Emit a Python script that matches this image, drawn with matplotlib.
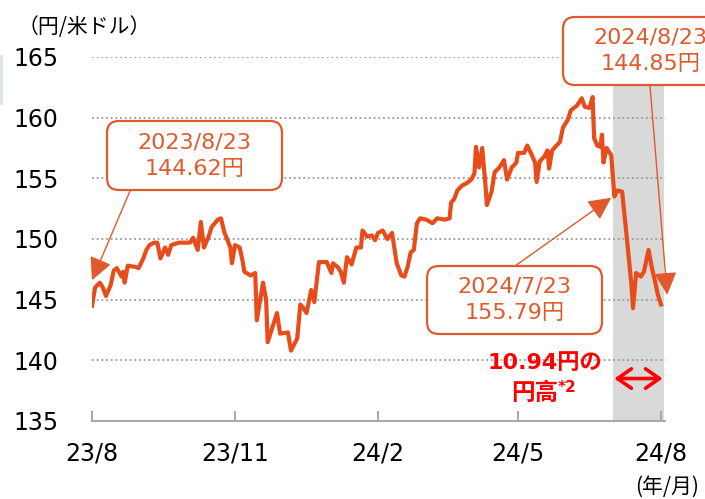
import matplotlib
matplotlib.use("Agg")
import matplotlib.pyplot as plt
import matplotlib.dates as mdates
from matplotlib.patches import FancyBboxPatch, Rectangle
import pandas as pd

plt.rcParams['font.family'] = ['DejaVu Sans', 'Noto Sans CJK JP']

# ---------------- data ----------------
dates = [
    "2023-08-23", "2023-08-25", "2023-08-28", "2023-08-30", "2023-09-01", "2023-09-04", "2023-09-06",
    "2023-09-08", "2023-09-11", "2023-09-12", "2023-09-13", "2023-09-15", "2023-09-20", "2023-09-22",
    "2023-09-25", "2023-09-27", "2023-09-29", "2023-10-02", "2023-10-04", "2023-10-06", "2023-10-09",
    "2023-10-11", "2023-10-13", "2023-10-18", "2023-10-23", "2023-10-25", "2023-10-27", "2023-10-30",
    "2023-11-01", "2023-11-03", "2023-11-06", "2023-11-08", "2023-11-12", "2023-11-14", "2023-11-16",
    "2023-11-20", "2023-11-21", "2023-11-23", "2023-11-26", "2023-11-28", "2023-11-29", "2023-12-03",
    "2023-12-06", "2023-12-07", "2023-12-11", "2023-12-13", "2023-12-14", "2023-12-17", "2023-12-20",
    "2023-12-22", "2023-12-27", "2023-12-29", "2024-01-02", "2024-01-04", "2024-01-06", "2024-01-08",
    "2024-01-11", "2024-01-13", "2024-01-16", "2024-01-21", "2024-01-24", "2024-01-25", "2024-01-28",
    "2024-01-30", "2024-02-01", "2024-02-03", "2024-02-06", "2024-02-09", "2024-02-12", "2024-02-13",
    "2024-02-16", "2024-02-19", "2024-02-21", "2024-02-23", "2024-02-26", "2024-02-29", "2024-03-03",
    "2024-03-06", "2024-03-09", "2024-03-11", "2024-03-13", "2024-03-15", "2024-03-17", "2024-03-19",
    "2024-03-21", "2024-03-25", "2024-03-29", "2024-04-01", "2024-04-06", "2024-04-09", "2024-04-10",
    "2024-04-12", "2024-04-14", "2024-04-17", "2024-04-20", "2024-04-23", "2024-04-25", "2024-04-26",
    "2024-04-28", "2024-04-30", "2024-05-02", "2024-05-03", "2024-05-06", "2024-05-08", "2024-05-11",
    "2024-05-14", "2024-05-16", "2024-05-19", "2024-05-22", "2024-05-23", "2024-05-27", "2024-05-29",
    "2024-06-01", "2024-06-03", "2024-06-04", "2024-06-06", "2024-06-09", "2024-06-11", "2024-06-12",
    "2024-06-14", "2024-06-16", "2024-06-19", "2024-06-21", "2024-06-24", "2024-06-26", "2024-06-30",
    "2024-07-03", "2024-07-05", "2024-07-08", "2024-07-10", "2024-07-11", "2024-07-13", "2024-07-15",
    "2024-07-16", "2024-07-17", "2024-07-19", "2024-07-22", "2024-07-24", "2024-07-26", "2024-07-29",
    "2024-08-01", "2024-08-04", "2024-08-05", "2024-08-07", "2024-08-10", "2024-08-12", "2024-08-15",
    "2024-08-17", "2024-08-19", "2024-08-21", "2024-08-23",
]
usdjpy = [
    144.5, 146.0, 146.4, 146.0, 145.3, 146.2, 147.4,
    147.6, 146.9, 147.3, 146.4, 147.8, 147.7, 147.6,
    148.4, 149.1, 149.5, 149.7, 149.7, 148.4, 149.3,
    148.7, 149.5, 149.7, 149.7, 149.7, 150.1, 149.1,
    151.4, 149.3, 150.2, 151.0, 151.6, 151.7, 150.6,
    149.3, 148.0, 149.5, 149.3, 148.1, 147.3, 147.0,
    147.2, 143.3, 146.4, 145.0, 141.5, 142.7, 143.9,
    142.2, 142.3, 140.8, 141.8, 144.6, 144.3, 143.9,
    145.8, 144.8, 148.1, 148.1, 147.2, 148.0, 147.7,
    147.3, 146.4, 148.5, 147.9, 149.3, 149.3, 150.7,
    150.2, 150.3, 149.9, 150.5, 150.7, 150.0, 150.5,
    148.0, 147.0, 146.9, 147.7, 148.9, 149.1, 151.3,
    151.7, 151.6, 151.3, 151.7, 151.6, 151.7, 153.0,
    153.3, 154.0, 154.4, 154.6, 154.9, 155.4, 157.6,
    155.9, 157.5, 154.6, 152.8, 153.9, 155.5, 155.9,
    156.5, 154.9, 155.9, 156.3, 157.1, 157.1, 157.7,
    156.9, 156.3, 154.7, 156.4, 156.8, 157.3, 155.8,
    157.3, 157.6, 158.0, 159.2, 159.8, 160.6, 161.0,
    161.6, 160.9, 160.8, 161.7, 158.3, 157.7, 157.6,
    158.6, 156.3, 157.5, 156.9, 153.5, 154.0, 153.9,
    150.1, 146.2, 144.3, 147.2, 146.9, 147.3, 149.1,
    147.7, 146.6, 145.4, 144.6,
]

tick_dates = ["2023-08-23", "2023-11-23", "2024-02-23", "2024-05-23", "2024-08-23"]
tick_labels = ["23/8", "23/11", "24/2", "24/5", "24/8"]
y_ticks = [135, 140, 145, 150, 155, 160, 165]

shade_start, shade_end = "2024-07-23", "2024-08-25"

ann_texts = ["2023/8/23\n144.62円", "2024/7/23\n155.79円", "2024/8/23\n144.85円"]
ann_targets = [("2023-08-23", 146.6), ("2024-07-22", 153.4), ("2024-08-27", 145.4)]
diff_text1 = "10.94円の"
diff_text2 = "円高"
diff_note = "*2"
diff_arrow = ("2024-07-24", "2024-08-24", 138.5)

LINE_C = "#E84C1A"
ANN_C = "#E05A2C"
RED = "#FF0000"

W, H = 705, 499
fig = plt.figure(figsize=(W / 100, H / 100), dpi=100)


def fx(px):
    return px / W


def fy(py):
    return 1 - py / H


ax = fig.add_axes([fx(92), fy(421), fx(665) - fx(92), fy(57) - fy(421)])

d = pd.to_datetime(dates)
ax.axvspan(pd.Timestamp(shade_start), pd.Timestamp(shade_end), color="#D9D9D9", zorder=0, lw=0)
ax.plot(d, usdjpy, color=LINE_C, lw=3.0, zorder=3, solid_joinstyle="round")

ax.set_ylim(135, 165)
x0 = mdates.date2num(pd.Timestamp(dates[0]))
x1 = mdates.date2num(pd.Timestamp(tick_dates[-1]))
ax.set_xlim(x0, x1 + (x1 - x0) * 4 / 569)

for y in y_ticks[1:]:
    ax.axhline(y, color="#9A9A9A", lw=1.3, ls=(0, (1, 1.6)), zorder=1)

ax.set_yticks(y_ticks)
ax.set_yticklabels([str(v) for v in y_ticks], fontsize=17)
ax.tick_params(axis="y", length=0, pad=24)
ax.set_xticks(pd.to_datetime(tick_dates))
ax.set_xticklabels(tick_labels, fontsize=17)
ax.tick_params(axis="x", direction="in", length=7, width=1.4, color="#A6A6A6", pad=15)

for s in ["top", "right", "left"]:
    ax.spines[s].set_visible(False)
ax.spines["bottom"].set_color("#A6A6A6")
ax.spines["bottom"].set_linewidth(1.4)
ax.patch.set_alpha(0)

# axis unit labels
fig.text(fx(84), fy(27), "（円/米ドル）", fontsize=15, ha="center", va="center",
         family=["Noto Sans CJK JP", "DejaVu Sans"])
fig.text(fx(667), fy(487), "(年/月)", fontsize=15, ha="center", va="center",
         family=["Noto Sans CJK JP", "DejaVu Sans"])

# tiny light blue mark at left edge
fig.patches.append(Rectangle((0, fy(105)), fx(3), fy(55) - fy(105), transform=fig.transFigure,
                             color="#DCE6F2", lw=0))

# annotation boxes: (left, top, right, bottom) in px
boxes = [(107, 121, 282, 190), (427, 266, 602, 334), (563, 17, 738, 85)]
tails = [(130, 191), (515, 266), (650, 86)]
for (l, t, r, b), txt, tail, tgt in zip(boxes, ann_texts, tails, ann_targets):
    p = FancyBboxPatch((l / 100, (H - b) / 100), (r - l) / 100, (b - t) / 100,
                       boxstyle="round,pad=0,rounding_size=0.12",
                       transform=fig.dpi_scale_trans, fc="white", ec=ANN_C, lw=1.6, zorder=5)
    fig.patches.append(p)
    fig.text(fx((l + r) / 2), fy((t + b) / 2), txt, ha="center", va="center", fontsize=16,
             color=ANN_C, linespacing=1.38, zorder=6)
    ax.annotate("", xy=(pd.Timestamp(tgt[0]), tgt[1]), xycoords="data",
                xytext=(fx(tail[0]), fy(tail[1])), textcoords="figure fraction",
                arrowprops=dict(arrowstyle="-|>,head_length=0.7,head_width=0.35", color=ANN_C,
                                lw=1.0, shrinkA=0, shrinkB=0, mutation_scale=20),
                annotation_clip=False, zorder=4)

# difference label
fig.text(fx(545), fy(363), diff_text1, ha="center", va="center", fontsize=16,
         fontweight="bold", color=RED)
fig.text(fx(535), fy(393), diff_text2, ha="center", va="center", fontsize=17,
         fontweight="bold", color=RED)
fig.text(fx(567), fy(388), diff_note, ha="center", va="center", fontsize=11,
         fontweight="bold", color=RED)
ax.annotate("", xy=(pd.Timestamp(diff_arrow[1]), diff_arrow[2]),
            xytext=(pd.Timestamp(diff_arrow[0]), diff_arrow[2]),
            arrowprops=dict(arrowstyle="<->,head_length=0.5,head_width=0.35", color=RED, lw=2.6,
                            shrinkA=0, shrinkB=0, mutation_scale=20),
            annotation_clip=False, zorder=6)

fig.savefig("out.png", dpi=100)
